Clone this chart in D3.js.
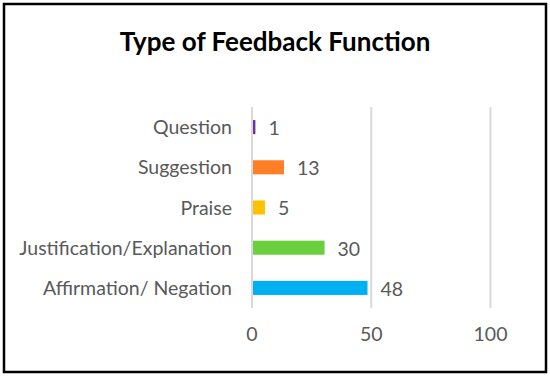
<!DOCTYPE html>
<html>
<head>
<meta charset="utf-8">
<script src="https://d3js.org/d3.v7.min.js"></script>
<style>
  body { margin: 0; background: #fff; }
  .label { font-family: Lato, "Open Sans", sans-serif; fill: #595959; }
</style>
</head>
<body>
<svg width="550" height="378" id="chart"></svg>
<script>
  // data
  var categories = ["Question", "Suggestion", "Praise", "Justification/Explanation", "Affirmation/ Negation"]
  var values = [1, 13, 5, 30, 48]
  var colors = ["#7030A0", "#FF7F27", "#FFC000", "#6CCF3F", "#00B0F0"]
  var ticks = [0, 50, 100]

  var svg = d3.select('#chart')

  // outer frame
  svg.append('rect')
    .attr('x', 4).attr('y', 4)
    .attr('width', 542).attr('height', 368)
    .attr('fill', 'white')
    .attr('stroke', 'black')
    .attr('stroke-width', 2.5)

  svg.append('text')
    .attr('x', 275).attr('y', 51)
    .attr('text-anchor', 'middle')
    .style('font', 'bold 26px Lato, "Open Sans", sans-serif')
    .style('fill', '#000')
    .text("Type of Feedback Function")

  var x = d3.scaleLinear().domain([0, 100]).range([252, 490.5])
  var y = d3.scaleBand().domain(categories).range([107, 308]).paddingInner(0.65).paddingOuter(0.325)

  // gridlines
  svg.selectAll('.grid')
    .data(ticks)
    .enter().append('line')
    .attr('class', 'grid')
    .attr('x1', d => x(d)).attr('x2', d => x(d))
    .attr('y1', 107).attr('y2', 308)
    .attr('stroke', '#d9d9d9')
    .attr('stroke-width', 2)

  // bars
  svg.selectAll('.bar')
    .data(values)
    .enter().append('rect')
    .attr('class', 'bar')
    .attr('x', x(0) + 1)
    .attr('y', (d, i) => y(categories[i]))
    .attr('width', d => x(d) - x(0))
    .attr('height', y.bandwidth())
    .attr('fill', (d, i) => colors[i])

  // value labels
  svg.selectAll('.val')
    .data(values)
    .enter().append('text')
    .attr('class', 'label val')
    .attr('x', d => x(d) + 14)
    .attr('y', (d, i) => y(categories[i]) + y.bandwidth() / 2)
    .attr('dy', '0.4em')
    .style('font-size', '19.5px')
    .text(d => d)

  // category labels
  svg.selectAll('.cat')
    .data(categories)
    .enter().append('text')
    .attr('class', 'label cat')
    .attr('x', 232)
    .attr('y', d => y(d) + y.bandwidth() / 2)
    .attr('dy', '0.36em')
    .attr('text-anchor', 'end')
    .style('font-size', '19.5px')
    .text(d => d)

  // tick labels
  svg.selectAll('.tick')
    .data(ticks)
    .enter().append('text')
    .attr('class', 'label tick')
    .attr('x', d => x(d))
    .attr('y', 341)
    .attr('text-anchor', 'middle')
    .style('font-size', '19.5px')
    .text(d => d)
</script>
</body>
</html>
